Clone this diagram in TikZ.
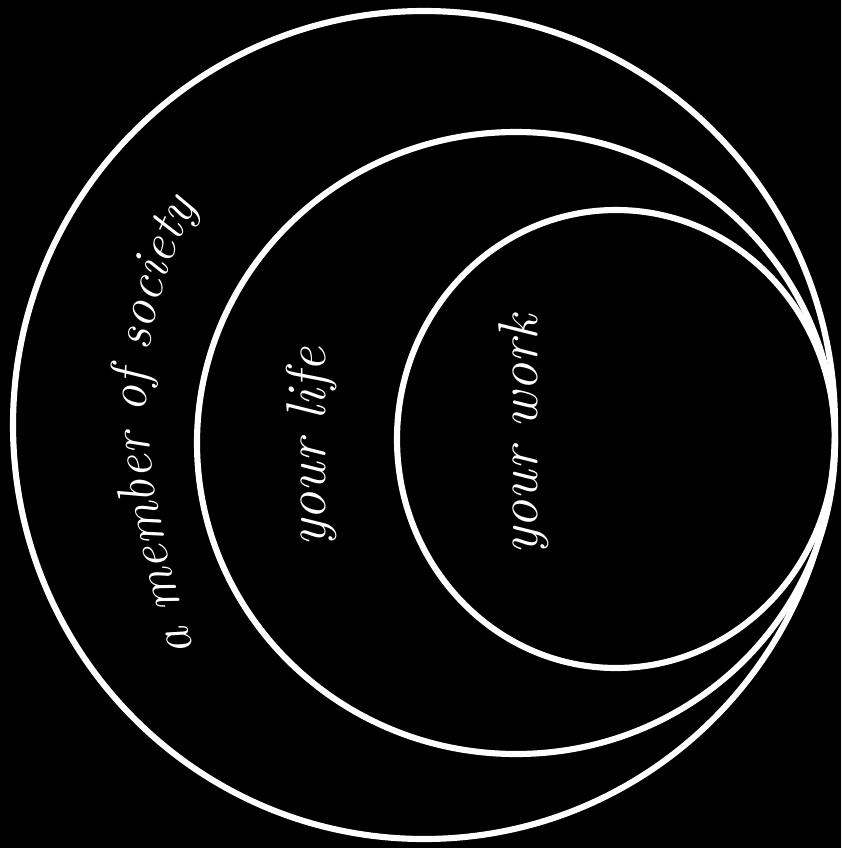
\documentclass[tikz,border=0pt]{standalone}
\usetikzlibrary{decorations.text}
\begin{document}
\begin{tikzpicture}[x=0.75pt,y=-0.75pt,
  ring/.style={draw=white,line width=4.6pt},
  hand/.style={text=white,rotate=90,inner sep=0pt,font=\fontsize{42}{46}\selectfont\itshape}]
\fill[black] (0,0) rectangle (841,848);
\useasboundingbox (0,0) rectangle (841,848);
\draw[ring] (424,425) ellipse [x radius=411,y radius=414];
\draw[ring] (516,443) ellipse [x radius=319,y radius=311];
\draw[ring] (616,439) ellipse [x radius=219,y radius=229];
\coordinate (s1) at (212,700);
\coordinate (s4) at (147,390);
\coordinate (s7) at (222,160);
\path[decorate,decoration={text along path,text align=center,
  text={|\fontsize{40}{44}\selectfont\itshape\color{white}|a member of society}}]
  (s1) .. controls (175,600) and (145,480) .. (s4)
       .. controls (149,300) and (180,230) .. (s7);
\node[hand] (life) at (311,447) {your life};
\node[hand] (work) at (524,435) {your work};
\end{tikzpicture}
\end{document}
